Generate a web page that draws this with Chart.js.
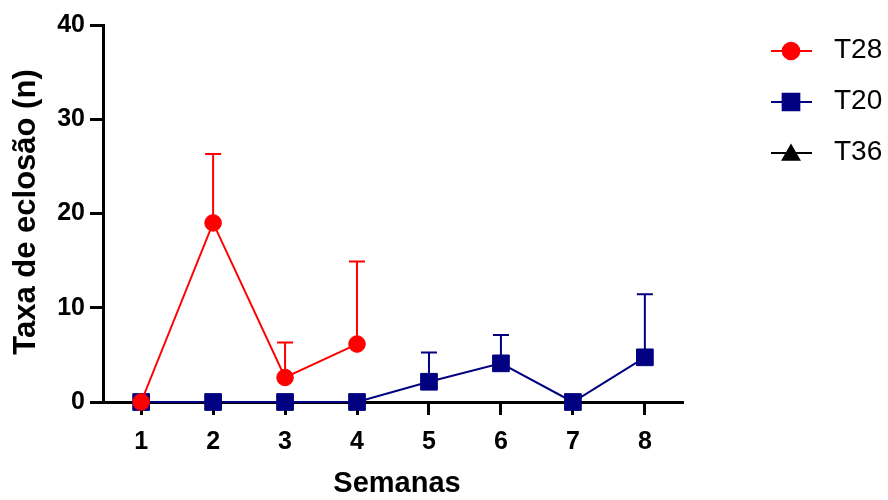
<!DOCTYPE html>
<html>
<head>
<meta charset="utf-8">
<script src="https://cdn.jsdelivr.net/npm/chart.js@4/dist/chart.umd.min.js"></script>
<style>
  html, body { margin: 0; padding: 0; background: #ffffff; }
  #wrap { width: 888px; height: 500px; }
</style>
</head>
<body>
<div id="wrap"><canvas id="c" width="888" height="500"></canvas></div>
<script>
// ---- data ----
const categories = ['1', '2', '3', '4', '5', '6', '7', '8'];
const seriesNames = ['T28', 'T20', 'T36'];
const t28Mean = [0, 19.0, 2.6, 6.15, null, null, null, null];
const t28Sd   = [0, 7.3, 3.7, 8.75, null, null, null, null];
const t20Mean = [0, 0, 0, 0, 2.15, 4.1, 0, 4.74];
const t20Sd   = [0, 0, 0, 0, 3.1, 3.0, 0, 6.7];
const t36Mean = [0, 0, 0, 0, null, null, null, null];
const t36Sd   = [0, 0, 0, 0, null, null, null, null];
const yTicks  = [0, 10, 20, 30, 40];
const xTitle = 'Semanas';
const yTitle = 'Taxa de eclosão (n)';

const FONT = '"Liberation Sans", Arial, Helvetica, sans-serif';

function toPoints(means) {
  return categories.map((c, i) => ({ x: i + 1, y: means[i] }));
}

const errorBars = {
  id: 'errorBars',
  beforeDatasetsDraw(chart) {
    const { ctx, scales: { x, y } } = chart;
    chart.data.datasets.forEach((ds, di) => {
      if (!chart.isDatasetVisible(di)) return;
      ctx.save();
      ctx.strokeStyle = ds.borderColor;
      ctx.lineWidth = 2;
      ds.data.forEach((p, i) => {
        const sd = ds.sd[i];
        if (p.y === null || !sd) return;
        const px = x.getPixelForValue(p.x);
        const py = y.getPixelForValue(p.y);
        const pt = y.getPixelForValue(p.y + sd);
        ctx.beginPath();
        ctx.moveTo(px, py);
        ctx.lineTo(px, pt);
        ctx.moveTo(px - 8, pt);
        ctx.lineTo(px + 8, pt);
        ctx.stroke();
      });
      ctx.restore();
    });
  }
};

const extras = {
  id: 'extras',
  afterDraw(chart) {
    const { ctx, chartArea } = chart;
    ctx.save();
    // axis titles
    ctx.fillStyle = '#000';
    ctx.font = 'bold 29px ' + FONT;
    ctx.textAlign = 'center';
    ctx.textBaseline = 'middle';
    ctx.fillText(xTitle, (chartArea.left + chartArea.right) / 2 + 4, 484);
    ctx.save();
    ctx.translate(26, 212);
    ctx.rotate(-Math.PI / 2);
    ctx.font = 'bold 31px ' + FONT;
    ctx.fillText(yTitle, 0, 0);
    ctx.restore();
    // legend
    const rows = [51, 102, 153];
    chart.data.datasets.forEach((ds, i) => {
      const yy = rows[i];
      ctx.strokeStyle = ds.borderColor;
      ctx.lineWidth = 2;
      ctx.beginPath();
      ctx.moveTo(771, yy);
      ctx.lineTo(812, yy);
      ctx.stroke();
      ctx.fillStyle = ds.pointBackgroundColor;
      ctx.strokeStyle = ds.borderColor;
      const r = ds.pointStyle === 'triangle' ? 9.5 : ds.pointRadius;
      const yOff = ds.pointStyle === 'triangle' ? 2 : 0;
      Chart.helpers.drawPoint(ctx, { pointStyle: ds.pointStyle, radius: r, rotation: 0, borderWidth: 1 }, 791, yy + yOff);
      ctx.fillStyle = '#000';
      ctx.font = '28px ' + FONT;
      ctx.textAlign = 'left';
      ctx.textBaseline = 'middle';
      ctx.fillText(ds.label, 834, yy - 1);
    });
    ctx.restore();
  }
};

function mkDataset(label, means, sd, color, style, radius) {
  return {
    label: label,
    data: toPoints(means),
    sd: sd,
    borderColor: color,
    backgroundColor: color,
    pointBackgroundColor: color,
    pointBorderColor: color,
    pointBorderWidth: 1,
    pointStyle: style,
    pointRadius: radius,
    pointHoverRadius: radius,
    borderWidth: 2,
    tension: 0,
    spanGaps: false,
    clip: false
  };
}

new Chart(document.getElementById('c'), {
  type: 'line',
  data: {
    datasets: [
      mkDataset(seriesNames[0], t28Mean, t28Sd, '#FF0000', 'circle', 8.3),
      mkDataset(seriesNames[1], t20Mean, t20Sd, '#000080', 'rect', 11.8),
      mkDataset(seriesNames[2], t36Mean, t36Sd, '#000000', 'triangle', 8)
    ]
  },
  options: {
    responsive: false,
    animation: false,
    devicePixelRatio: 1,
    layout: { padding: { left: 0, right: 205, top: 25, bottom: 0 } },
    plugins: { legend: { display: false }, tooltip: { enabled: false } },
    scales: {
      x: {
        type: 'linear',
        min: 0.47,
        max: 8.53,
        afterFit(s) { s.height = 98; },
        afterBuildTicks(s) { s.ticks = categories.map((c, i) => ({ value: i + 1 })); },
        ticks: {
          includeBounds: false,
          stepSize: 1,
          callback: (v) => categories[v - 1],
          color: '#000',
          padding: 12,
          maxRotation: 0,
          font: { family: FONT, size: 25, weight: 'bold' }
        },
        grid: { display: true, drawOnChartArea: false, drawTicks: true, tickLength: 13, tickWidth: 3, tickColor: '#000' },
        border: { display: true, width: 3, color: '#000' }
      },
      y: {
        type: 'linear',
        min: 0,
        max: 40,
        afterFit(s) { s.width = 103; },
        afterBuildTicks(s) { s.ticks = yTicks.map(v => ({ value: v })); },
        ticks: {
          color: '#000',
          padding: 5,
          font: { family: FONT, size: 25, weight: 'bold' }
        },
        grid: { display: true, drawOnChartArea: false, drawTicks: true, tickLength: 13, tickWidth: 3, tickColor: '#000' },
        border: { display: true, width: 3, color: '#000' }
      }
    }
  },
  plugins: [errorBars, extras]
});
</script>
</body>
</html>
